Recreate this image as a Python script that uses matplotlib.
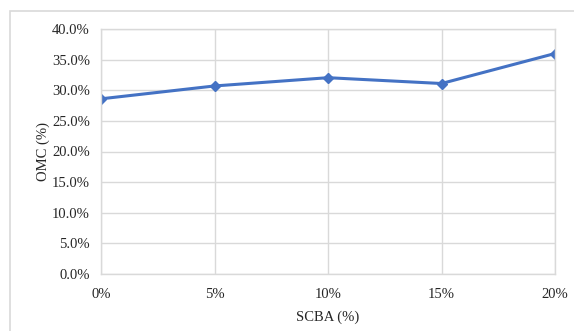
import matplotlib.pyplot as plt
from matplotlib.patches import Rectangle

# SCBA content vs optimum moisture content
scba = [0, 5, 10, 15, 20]
x_labels = ['0%', '5%', '10%', '15%', '20%']
omc = [28.6, 30.7, 32.05, 31.1, 36.0]
y_ticks = [0, 5, 10, 15, 20, 25, 30, 35, 40]

plt.rcParams['font.family'] = ['Liberation Serif', 'DejaVu Serif']

fig = plt.figure(figsize=(5.74, 3.31), dpi=100)
ax = fig.add_axes([101 / 574, 1 - 274 / 331, 454 / 574, 245 / 331])

# outer chart frame
fig.patches.append(Rectangle((10 / 574, -0.1), 1.2, 1 - 11 / 331 + 0.1,
                             transform=fig.transFigure, fill=False,
                             edgecolor='#d9d9d9', linewidth=1.2))

ax.plot(scba, omc, color='#4472C4', linewidth=2.2, marker='D', markersize=5.5)

ax.set_xlim(0, 20)
ax.set_ylim(0, 40)
ax.set_xticks(scba)
ax.set_xticklabels(x_labels)
ax.set_yticks(y_ticks)
ax.set_yticklabels([f'{v:.1f}%' for v in y_ticks])
ax.tick_params(length=0, labelsize=10.5, colors='#262626', pad=10)
ax.tick_params(axis='y', pad=8)
ax.grid(True, color='#d9d9d9', linewidth=1)
ax.set_axisbelow(True)
for s in ax.spines.values():
    s.set_color('#d9d9d9')
    s.set_linewidth(1)

ax.set_xlabel('SCBA (%)', fontsize=10.5, color='#262626', labelpad=7)
ax.set_ylabel('OMC (%)', fontsize=10.5, color='#262626', labelpad=1)

fig.savefig('out.png', dpi=100)
